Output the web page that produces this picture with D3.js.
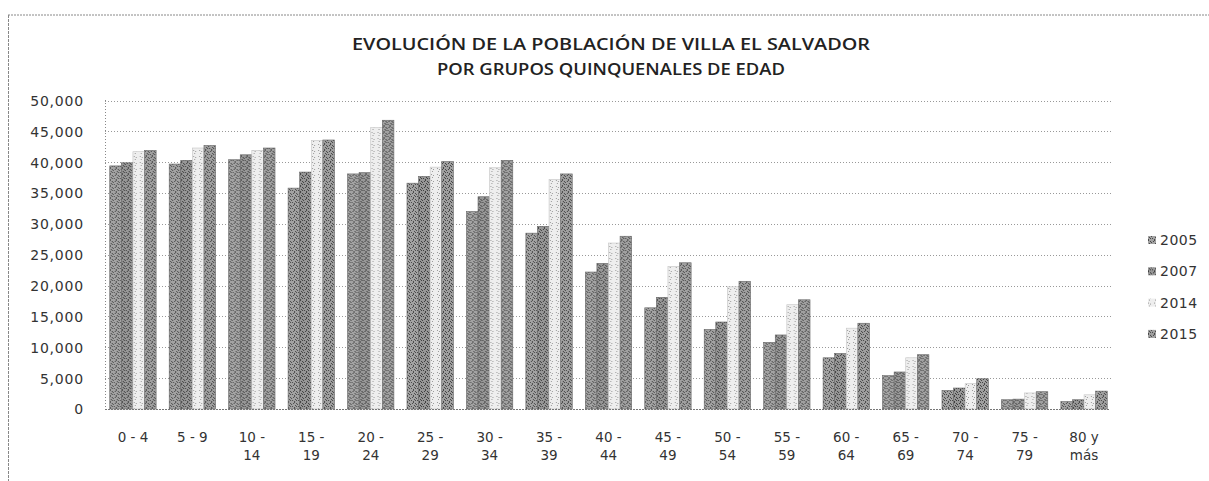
<!DOCTYPE html>
<html>
<head>
<meta charset="utf-8">
<script src="https://cdn.jsdelivr.net/npm/d3@7"></script>
<style>
  html, body { margin: 0; padding: 0; background: #fff; }
  svg { display: block; }
  text { font-family: "DejaVu Sans", Verdana, sans-serif; fill: #333; }
</style>
</head>
<body>
<svg id="chart" width="1209" height="481"></svg>
<script>
const titleLines = ["EVOLUCIÓN DE LA POBLACIÓN DE VILLA EL SALVADOR", "POR GRUPOS QUINQUENALES DE EDAD"];
const categories = ["0 - 4","5 - 9","10 - 14","15 - 19","20 - 24","25 - 29","30 - 34","35 - 39","40 - 44","45 - 49","50 - 54","55 - 59","60 - 64","65 - 69","70 - 74","75 - 79","80 y más"];
const seriesNames = ["2005","2007","2014","2015"];
const s2005 = [39400,39700,40400,35800,38100,36600,32000,28500,22200,16400,12900,10800,8300,5400,3000,1500,1200];
const s2007 = [39900,40300,41200,38400,38300,37700,34400,29600,23600,18100,14100,12000,9000,6000,3400,1600,1500];
const s2014 = [41700,42300,41900,43500,45600,39200,39100,37200,26900,23100,19800,16900,13100,8300,4100,2600,2300];
const s2015 = [41900,42700,42300,43600,46800,40100,40300,38100,28000,23700,20700,17700,13900,8800,4900,2800,2900];
const yTicks = [0,5000,10000,15000,20000,25000,30000,35000,40000,45000,50000];

const seriesValues = [s2005, s2007, s2014, s2015];
const baseColors = ["#a3a3a3", "#979797", "#eeeeee", "#a0a0a0"];
const dotColors = ["#4a4a4a", "#3e3e3e", "#9a9a9a", "#444444"];

const svg = d3.select("#chart");

// stipple patterns imitating the halftone print
const defs = svg.append("defs");
const dotCells = [[0,0],[2,1],[1,3],[3,2],[4,4],[0,5],[5,1],[2,4]];
seriesNames.forEach((s, k) => {
  const p = defs.append("pattern").attr("id", "pat" + k)
    .attr("patternUnits", "userSpaceOnUse").attr("width", 6).attr("height", 6);
  p.append("rect").attr("width", 6).attr("height", 6).attr("fill", baseColors[k]);
  p.selectAll("rect.d").data(dotCells.slice(0, k === 2 ? 3 : 8)).enter().append("rect")
    .attr("class", "d").attr("x", d => d[0]).attr("y", d => d[1])
    .attr("width", 1).attr("height", 1).attr("fill", dotColors[k]);
});

// outer frame (dotted, partially visible)
svg.append("line").attr("x1", 8).attr("x2", 1209).attr("y1", 15).attr("y2", 15)
  .attr("stroke", "#888").attr("stroke-dasharray", "2,1");
svg.append("line").attr("x1", 8.5).attr("x2", 8.5).attr("y1", 15).attr("y2", 481)
  .attr("stroke", "#888").attr("stroke-dasharray", "3,1");

// title
svg.selectAll("text.title").data(titleLines).enter().append("text")
  .attr("class", "title")
  .attr("x", 611).attr("y", (d, i) => 50 + i * 25)
  .attr("text-anchor", "middle")
  .style("font-family", "'Open Sans', sans-serif")
  .style("font-weight", "600")
  .style("font-size", "16px")
  .style("fill", "#222")
  .attr("textLength", (d, i) => i === 0 ? 518 : 348)
  .attr("lengthAdjust", "spacingAndGlyphs")
  .text(d => d);

const x0 = d3.scaleBand().domain(categories).range([105, 1112]).paddingInner(0.22).paddingOuter(0.08);
const x1 = d3.scaleBand().domain(seriesNames).range([0, x0.bandwidth()]).padding(0);
const y = d3.scaleLinear().domain([0, 50000]).range([409, 100.5]);

// gridlines
svg.append("g").selectAll("line").data(yTicks.filter(d => d > 0)).enter().append("line")
  .attr("x1", 105).attr("x2", 1113)
  .attr("y1", d => Math.round(y(d)) + 0.5).attr("y2", d => Math.round(y(d)) + 0.5)
  .attr("stroke", "#999").attr("stroke-dasharray", "1,2");

// y axis
const yAxis = d3.axisLeft(y).tickValues(yTicks).tickFormat(d3.format(",")).tickSize(0).tickPadding(0);
const gy = svg.append("g").attr("transform", "translate(84,0)").call(yAxis);
gy.select(".domain").remove();
gy.selectAll("text").style("font-size", "14px").style("letter-spacing", "0.8px")
  .style("fill", "#333").attr("dy", "0.35em");

svg.append("line").attr("x1", 105.5).attr("x2", 105.5).attr("y1", 100).attr("y2", 409)
  .attr("stroke", "#888").attr("stroke-dasharray", "1,2");

// bars
const groups = svg.append("g").selectAll("g").data(categories).enter().append("g")
  .attr("transform", d => `translate(${x0(d)},0)`);
groups.selectAll("rect").data((d, i) => seriesNames.map((s, k) => ({ s, k, v: seriesValues[k][i] })))
  .enter().append("rect")
  .attr("x", d => x1(d.s))
  .attr("width", x1.bandwidth())
  .attr("y", d => y(d.v))
  .attr("height", d => y(0) - y(d.v))
  .attr("fill", d => `url(#pat${d.k})`)
  .attr("stroke", d => d.k === 2 ? "#c4c4c4" : "#666")
  .attr("stroke-width", 0.6);

// x axis line
svg.append("line").attr("x1", 105).attr("x2", 1110).attr("y1", 409.5).attr("y2", 409.5)
  .attr("stroke", "#777").attr("stroke-dasharray", "2,1");

// x labels
const xAxis = d3.axisBottom(x0).tickSize(0).tickFormat("");
const gx = svg.append("g").attr("transform", "translate(0,409)").call(xAxis);
gx.select(".domain").remove();
function wrapLabel(s) {
  if (s.length <= 5) return [s];
  const idx = s.lastIndexOf(" ");
  return [s.slice(0, idx), s.slice(idx + 1)];
}
gx.selectAll(".tick").each(function(d) {
  const lines = wrapLabel(d);
  const t = d3.select(this).append("text").attr("text-anchor", "middle")
    .style("font-size", "13.5px").style("fill", "#333");
  lines.forEach((ln, i) => {
    t.append("tspan").attr("x", 0).attr("y", 33 + i * 18).text(ln);
  });
});

// legend
const leg = svg.append("g").selectAll("g").data(seriesNames).enter().append("g")
  .attr("transform", (d, i) => `translate(1148,${240 + i * 31.3})`);
leg.append("rect").attr("x", 0).attr("y", -4).attr("width", 8).attr("height", 8)
  .attr("fill", (d, i) => `url(#pat${i})`);
leg.append("text").attr("x", 12).attr("y", 0).attr("dy", "0.36em")
  .style("font-size", "14px").style("letter-spacing", "0.5px").text(d => d);
</script>
</body>
</html>
